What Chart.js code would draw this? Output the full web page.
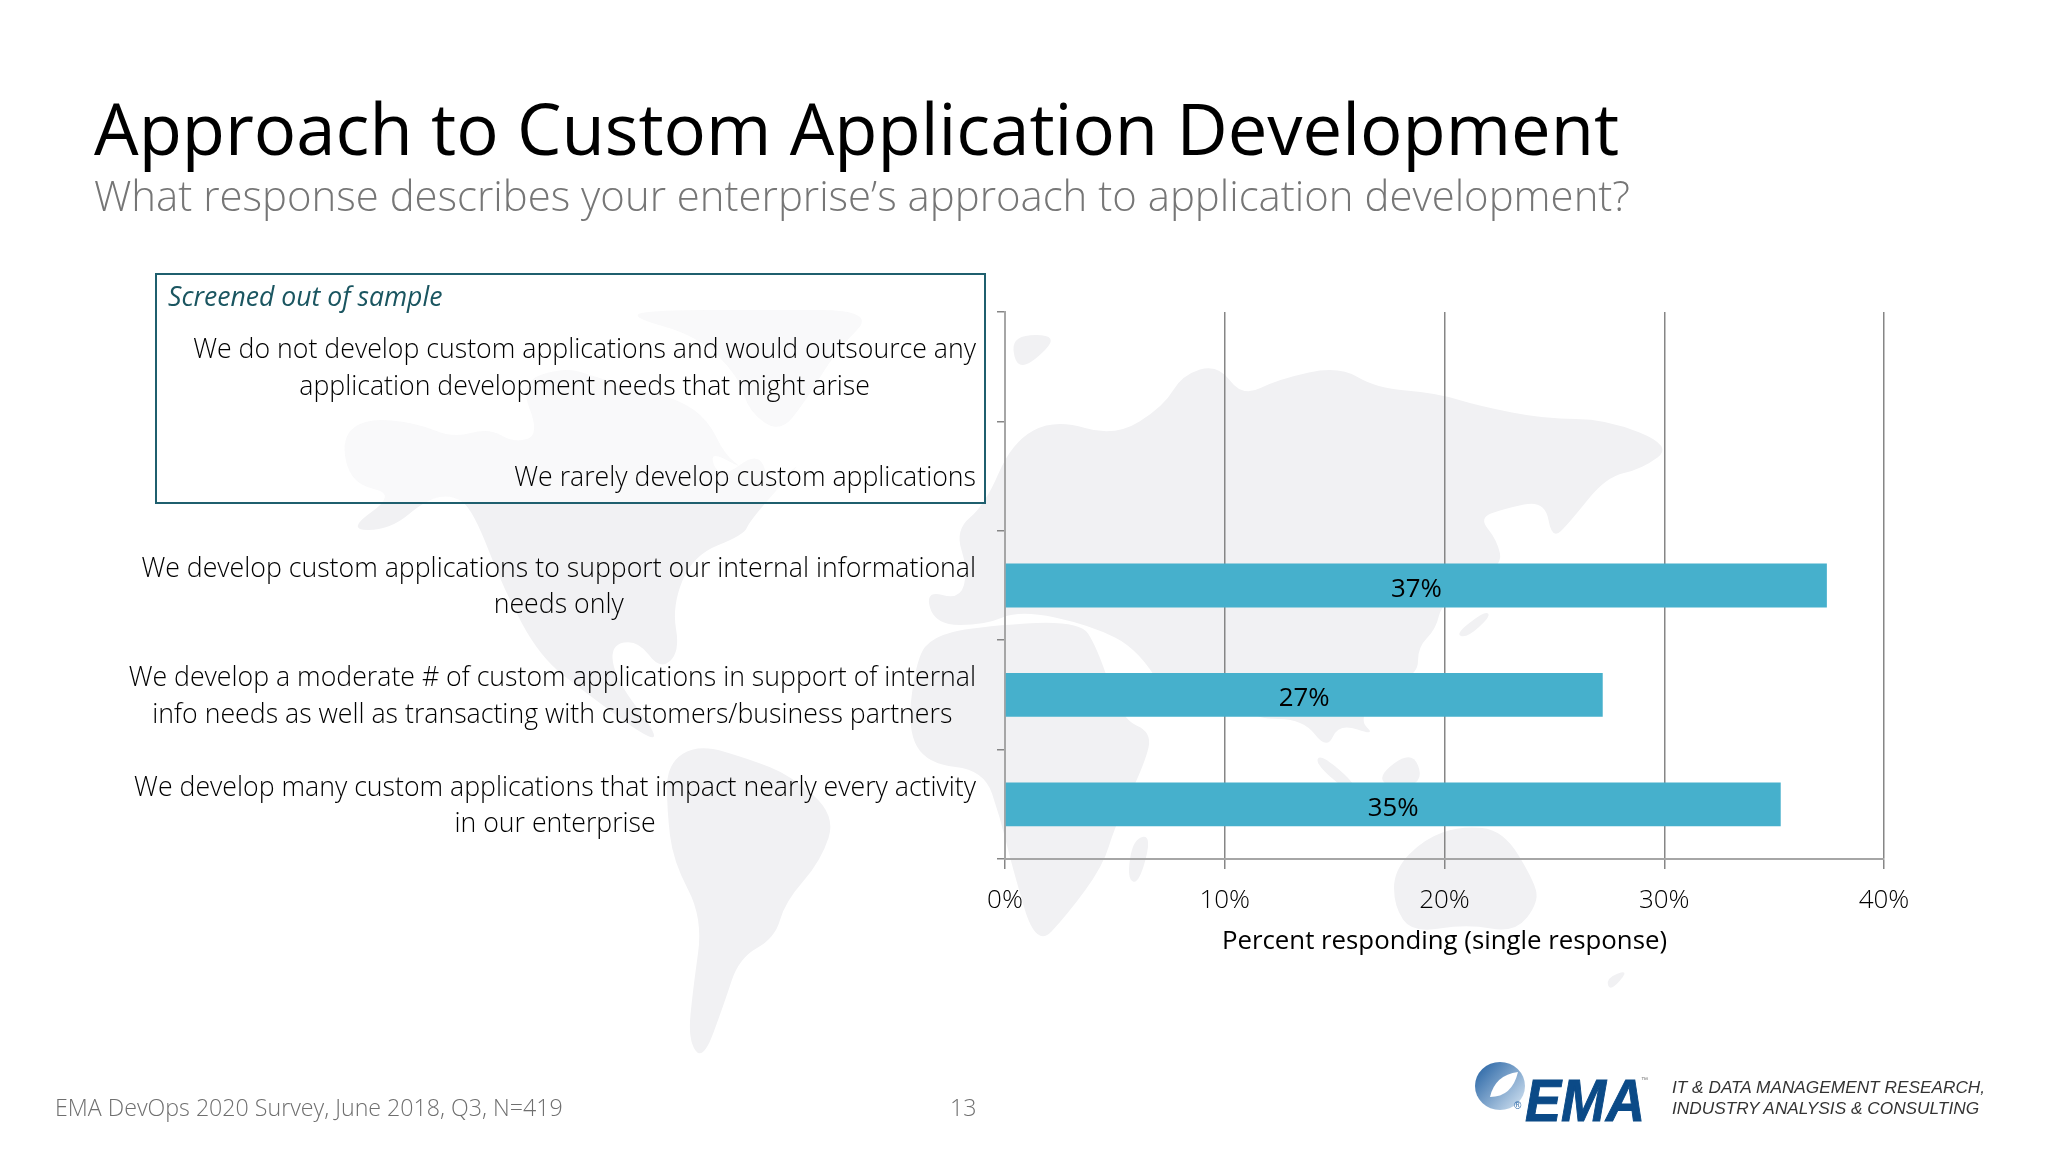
<!DOCTYPE html>
<html>
<head>
<meta charset="utf-8">
<title>Approach to Custom Application Development</title>
<script src="https://cdn.jsdelivr.net/npm/chart.js@4"></script>
<style>
    html, body { margin: 0; padding: 0; background: #fff; }
    #wrap { position: relative; width: 2048px; height: 1152px; overflow: hidden; }
    canvas { position: absolute; left: 0; top: 0; }
    .txt { position: absolute; white-space: nowrap; font-family: "Open Sans", sans-serif; }
    #titulo { left: 94px; top: 80px; font-size: 70.6px; line-height: 96px; color: #000; }
    #subtitulo { left: 94px; top: 167px; font-size: 41.9px; line-height: 56px; color: #767676; font-weight: 300; }
    #fuente { left: 55px; top: 1092px; font-size: 23.2px; line-height: 30px; color: #6f6f6f; font-weight: 300; }
    #pagina { left: 950px; top: 1092px; font-size: 23.2px; line-height: 30px; color: #6f6f6f; font-weight: 300; }
    #ema { left: 1525px; top: 1061px; font: italic bold 60px/80px "Liberation Sans", sans-serif; color: #0b4a87; -webkit-text-stroke: 1px #0b4a87; transform-origin: left top; transform: scaleX(0.9); }
    #lema { left: 1672px; top: 1077px; font: italic 17.25px/21px "Liberation Sans", sans-serif; color: #333; }
    #tm { left: 1641px; top: 1076px; font: 7px/8px "Liberation Sans", sans-serif; color: #777; }
    #reg { left: 1514px; top: 1101px; font: 10px/10px "Liberation Sans", sans-serif; color: #2f6aa8; }
</style>
</head>
<body>
<div id="wrap">
    <canvas id="grafico" width="2048" height="1152"></canvas>
    <div class="txt" id="titulo">Approach to Custom Application Development</div>
    <div class="txt" id="subtitulo">What response describes your enterprise’s approach to application development?</div>
    <div class="txt" id="fuente">EMA DevOps 2020 Survey, June 2018, Q3, N=419</div>
    <div class="txt" id="pagina">13</div>
    <div class="txt" id="ema">EMA</div>
    <div class="txt" id="tm">™</div>
    <div class="txt" id="reg">®</div>
    <div class="txt" id="lema">IT &amp; DATA MANAGEMENT RESEARCH,<br>INDUSTRY ANALYSIS &amp; CONSULTING</div>
</div>
<script>
// datos
const categorias = [
    ['We do not develop custom applications and would outsource any', 'application development needs that might arise'],
    ['We rarely develop custom applications'],
    ['We develop custom applications to support our internal informational', 'needs only'],
    ['We develop a moderate # of custom applications in support of internal', 'info needs as well as transacting with customers/business partners'],
    ['We develop many custom applications that impact nearly every activity', 'in our enterprise']
];
const valores = [null, null, 37.4, 27.2, 35.3];
const ticksX = [0, 10, 20, 30, 40];
const tituloEjeX = 'Percent responding (single response)';
const tituloCaja = 'Screened out of sample';

const FUENTE = '"Open Sans", sans-serif';
const TAM = 26.7;

// mapa de fondo, contornos aproximados en pixeles de la pagina
const mapa = [
    [[341,438],[366,418],[417,423],[453,438],[489,428],[514,443],[540,435],[519,382],[565,367],[596,377],[640,390],[680,400],[708,420],[725,455],[745,470],[708,450],[720,480],[760,450],[770,490],[808,455],[750,520],[744,535],[693,555],[672,606],[680,652],[660,670],[638,640],[610,645],[616,680],[657,734],[650,740],[586,693],[540,657],[504,590],[473,510],[453,495],[427,499],[390,530],[346,530],[397,494],[351,484]],
    [[627,316],[657,310],[760,310],[877,310],[836,351],[805,402],[780,433],[749,412],[739,377],[698,336]],
    [[667,764],[698,744],[749,759],[790,775],[836,815],[821,861],[785,902],[775,938],[739,958],[724,1004],[703,1061],[688,1040],[693,989],[703,918],[673,861],[667,810]],
    [[960,600],[968,570],[955,530],[985,505],[1012,442],[1055,419],[1115,437],[1164,406],[1182,375],[1218,364],[1242,397],[1279,379],[1339,366],[1376,388],[1436,393],[1479,406],[1545,419],[1606,419],[1673,446],[1642,469],[1606,477],[1570,522],[1552,540],[1545,500],[1503,509],[1479,518],[1497,540],[1503,567],[1442,602],[1436,629],[1418,647],[1418,674],[1388,683],[1358,719],[1376,736],[1339,723],[1327,750],[1303,719],[1255,719],[1242,701],[1206,678],[1180,720],[1140,650],[1090,625],[1020,610],[985,625],[935,625],[925,590]],
    [[917,657],[933,637],[973,627],[1079,620],[1097,647],[1121,719],[1152,732],[1145,763],[1115,826],[1103,866],[1067,915],[1036,948],[1012,866],[1000,817],[984,770],[927,764],[907,729]],
    [[1394,870],[1424,839],[1461,826],[1503,830],[1533,879],[1539,902],[1515,933],[1467,924],[1412,933],[1394,906]],
    [[1133,839],[1152,835],[1139,884],[1127,879]],
    [[1321,754],[1358,786],[1345,790],[1315,763]],
    [[1376,777],[1412,750],[1424,781],[1395,790]],
    [[1455,634],[1485,611],[1491,616],[1467,638]],
    [[1012,335],[1060,335],[1030,365],[1015,365]],
    [[1606,978],[1630,969],[1610,992]]
];

const fondoPlugin = {
    id: 'fondo',
    beforeDraw(chart) {
        const ctx = chart.ctx;
        ctx.save();
        ctx.fillStyle = '#f1f1f3';
        mapa.forEach(p => {
            // curvas por los puntos medios para que no quede tan poligonal
            ctx.beginPath();
            p.forEach((q, i) => {
                const r = p[(i + 1) % p.length];
                const mx = (q[0] + r[0]) / 2, my = (q[1] + r[1]) / 2;
                if (i === 0) ctx.moveTo(mx, my);
                else ctx.quadraticCurveTo(q[0], q[1], mx, my);
            });
            ctx.quadraticCurveTo(p[0][0], p[0][1], (p[0][0] + p[1][0]) / 2, (p[0][1] + p[1][1]) / 2);
            ctx.closePath();
            ctx.fill();
        });
        // caja de "screened out"
        ctx.fillStyle = 'rgba(255,255,255,0.55)';
        ctx.fillRect(156, 274, 829, 229);
        ctx.strokeStyle = '#1f5f6e';
        ctx.lineWidth = 2;
        ctx.strokeRect(156, 274, 829, 229);
        ctx.fillStyle = '#1a5560';
        ctx.font = `italic 400 26.6px ${FUENTE}`;
        ctx.textBaseline = 'middle';
        ctx.fillText(tituloCaja, 168, 298);

        // logo
        const g = ctx.createLinearGradient(1478, 1068, 1522, 1108);
        g.addColorStop(0, '#2f6aa8');
        g.addColorStop(1, '#cfe0f0');
        ctx.fillStyle = g;
        ctx.beginPath();
        ctx.ellipse(1500, 1086, 25, 24, 0, 0, Math.PI * 2);
        ctx.fill();
        ctx.fillStyle = '#fff';
        ctx.beginPath();
        ctx.moveTo(1490, 1097);
        ctx.quadraticCurveTo(1495, 1075, 1518, 1072);
        ctx.quadraticCurveTo(1512, 1097, 1490, 1097);
        ctx.fill();
        ctx.restore();
    }
};

const etiquetasPlugin = {
    id: 'etiquetas',
    afterDraw(chart) {
        const ctx = chart.ctx;
        const y = chart.scales.y;
        ctx.save();
        // categorias: bloque a la derecha, lineas centradas
        ctx.font = `300 ${TAM}px ${FUENTE}`;
        ctx.fillStyle = '#000';
        ctx.textBaseline = 'middle';
        ctx.textAlign = 'center';
        categorias.forEach((lineas, i) => {
            const ancho = Math.max(...lineas.map(l => ctx.measureText(l).width));
            const cy = y.getPixelForValue(i) + 2;
            lineas.forEach((l, j) => {
                ctx.fillText(l, 976 - ancho / 2, cy + (j - (lineas.length - 1) / 2) * 36.6);
            });
        });
        // valores en el centro de la barra
        ctx.font = `400 25.8px ${FUENTE}`;
        chart.getDatasetMeta(0).data.forEach((bar, i) => {
            if (valores[i] === null) return;
            ctx.fillText(Math.round(valores[i]) + '%', (bar.x + bar.base) / 2, bar.y + 4);
        });
        ctx.restore();
    }
};

new Chart(document.getElementById('grafico').getContext('2d'), {
    type: 'bar',
    data: {
        labels: categorias.map(c => c.join(' ')),
        datasets: [{
            data: valores,
            backgroundColor: '#46b0cc',
            barPercentage: 0.4,
            categoryPercentage: 1
        }]
    },
    options: {
        indexAxis: 'y',
        responsive: false,
        animation: false,
        devicePixelRatio: 1,
        layout: { padding: { left: 997, top: 312, right: 164, bottom: 193 } },
        plugins: { legend: { display: false }, tooltip: { enabled: false } },
        scales: {
            x: {
                min: ticksX[0],
                max: ticksX[ticksX.length - 1],
                afterBuildTicks: scale => { scale.ticks = ticksX.map(v => ({ value: v })); },
                afterFit: scale => { scale.height = 100; },
                border: { color: '#a6a6a6', width: 2 },
                grid: { color: '#868686', lineWidth: 1.5, tickLength: 10 },
                ticks: {
                    color: '#000',
                    font: { family: 'Open Sans', size: 26, weight: '300' },
                    padding: 16,
                    maxRotation: 0,
                    callback: v => v + '%'
                },
                title: {
                    display: true,
                    text: tituloEjeX,
                    color: '#000',
                    font: { family: 'Open Sans', size: 25.8, weight: '400' },
                    padding: { top: 8, bottom: 2 }
                }
            },
            y: {
                afterFit: scale => { scale.width = 8; },
                border: { color: '#a6a6a6', width: 2 },
                grid: { offset: true, drawOnChartArea: false, color: '#868686', lineWidth: 1.5, tickLength: 8 },
                ticks: { display: false }
            }
        }
    },
    plugins: [fondoPlugin, etiquetasPlugin]
});
</script>
</body>
</html>
